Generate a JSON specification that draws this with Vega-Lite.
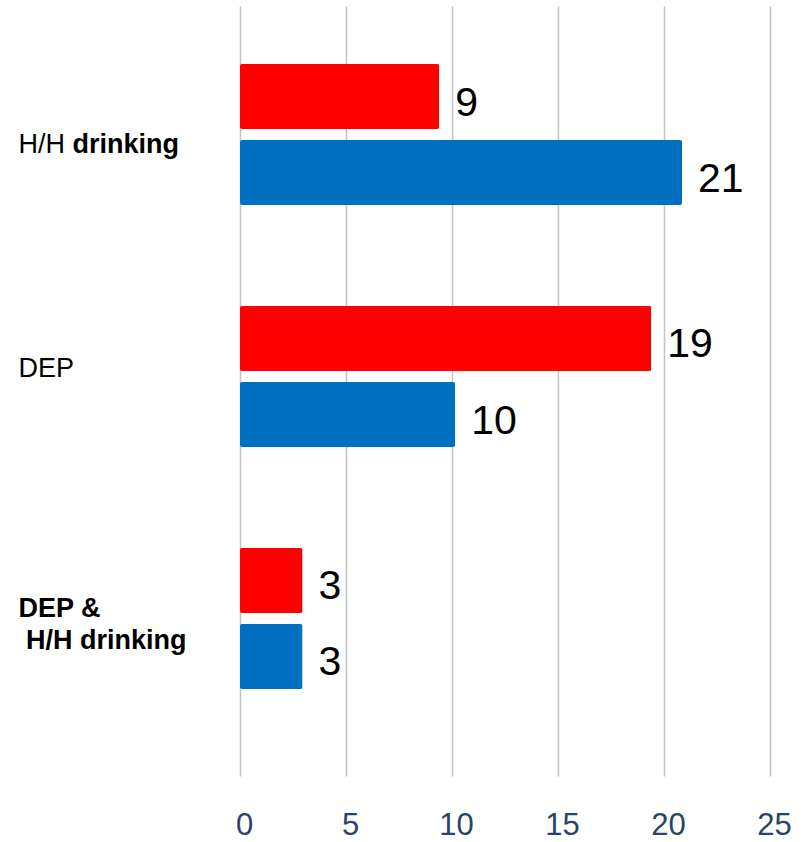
{
  "$schema": "https://vega.github.io/schema/vega-lite/v6.json",
  "width": 530,
  "height": 770,
  "padding": {"left": 18, "top": 6, "right": 0, "bottom": 0},
  "background": "white",
  "config": {"view": {"stroke": null}, "font": "Liberation Sans"},
  "data": {
    "values": [
      {"category": "H/H drinking", "series": "Series 1", "value": 9.4},
      {"category": "H/H drinking", "series": "Series 2", "value": 20.85},
      {"category": "DEP", "series": "Series 1", "value": 19.4},
      {"category": "DEP", "series": "Series 2", "value": 10.15},
      {"category": "DEP & H/H drinking", "series": "Series 1", "value": 2.95},
      {"category": "DEP & H/H drinking", "series": "Series 2", "value": 2.95}
    ]
  },
  "layer": [
    {
      "mark": {"type": "bar", "cornerRadius": 2},
      "encoding": {
        "y": {
          "field": "category",
          "type": "nominal",
          "sort": ["H/H drinking", "DEP", "DEP & H/H drinking"],
          "scale": {"paddingInner": 0.417, "paddingOuter": 0.2996, "align": 0.4},
          "axis": {
            "title": null,
            "orient": "left",
            "domain": false,
            "ticks": false,
            "tickSize": 0,
            "grid": false,
            "labelAlign": "left",
            "labelBaseline": "middle",
            "labelPadding": 222,
            "labelFontSize": 27,
            "labelColor": "black",
            "labelLineHeight": 32,
            "labelLimit": 0,
            "labelExpr": "datum.value == 'H/H drinking' ? 'H/H' : (datum.value == 'DEP & H/H drinking' ? ['DEP &', '\u200b\u00a0H/H drinking'] : datum.label)",
            "labelFontWeight": {"condition": {"test": "datum.value == 'DEP & H/H drinking'", "value": "bold"}, "value": "normal"},
            "labelOffset": {"condition": [{"test": "datum.value == 'H/H drinking'", "value": 10}, {"test": "datum.value == 'DEP'", "value": -8}], "value": -9}
          }
        },
        "yOffset": {
          "field": "series",
          "type": "nominal",
          "sort": ["Series 1", "Series 2"],
          "scale": {"paddingInner": 0.1447, "paddingOuter": 0}
        },
        "x": {
          "field": "value",
          "type": "quantitative",
          "scale": {"domain": [0, 25], "nice": false},
          "axis": {
            "title": null,
            "values": [0, 5, 10, 15, 20, 25],
            "grid": true,
            "gridColor": "#c4c4c4",
            "gridWidth": 1.5,
            "domain": false,
            "ticks": false,
            "tickSize": 0,
            "labelPadding": 34,
            "labelFontSize": 31,
            "labelColor": "#2a4467",
            "labelFlush": false,
            "labelOffset": 4
          }
        },
        "color": {
          "field": "series",
          "type": "nominal",
          "scale": {"domain": ["Series 1", "Series 2"], "range": ["#ff0000", "#0070c0"]},
          "legend": null
        }
      }
    },
    {
      "mark": {"type": "text", "align": "left", "baseline": "middle", "dx": 16, "dy": 7, "fontSize": 41, "color": "black"},
      "encoding": {
        "y": {
          "field": "category",
          "type": "nominal",
          "sort": ["H/H drinking", "DEP", "DEP & H/H drinking"],
          "axis": {
            "title": null,
            "orient": "left",
            "domain": false,
            "ticks": false,
            "tickSize": 0,
            "grid": false,
            "labelAlign": "left",
            "labelBaseline": "middle",
            "labelPadding": 168,
            "labelFontSize": 27,
            "labelFontWeight": "bold",
            "labelColor": "black",
            "labelLimit": 0,
            "labelOffset": 10,
            "labelExpr": "datum.value == 'H/H drinking' ? 'drinking' : ''"
          }
        },
        "yOffset": {"field": "series", "type": "nominal", "sort": ["Series 1", "Series 2"]},
        "x": {"field": "value", "type": "quantitative"},
        "text": {"field": "value", "type": "quantitative", "format": ".0f"}
      }
    }
  ],
  "resolve": {"axis": {"y": "independent"}}
}
